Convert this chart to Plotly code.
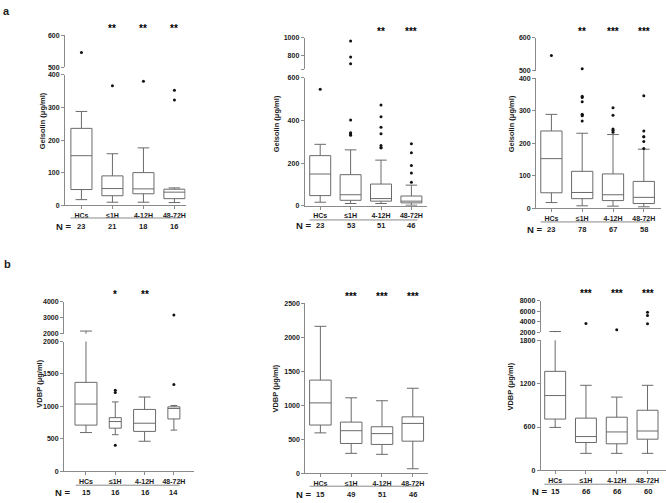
import plotly.graph_objects as go

W, H = 666, 503
categories = ["HCs", "≤1H", "4-12H", "48-72H"]

# ---------------- a, left: Gelsolin ----------------
gel1_n = [23, 21, 18, 16]
gel1_low = [17, 9, 9, 8]
gel1_q1 = [48, 29, 35, 20]
gel1_med = [152, 51, 50, 40]
gel1_q3 = [236, 90, 100, 49]
gel1_high = [288, 158, 176, 53]
gel1_out = [[546], [367], [381], [353, 323]]
gel1_stars = ["", "**", "**", "**"]

# ---------------- a, middle: Gelsolin ----------------
gel2_n = [23, 53, 51, 46]
gel2_low = [17, 11, 11, 3]
gel2_q1 = [48, 26, 22, 14]
gel2_med = [149, 52, 34, 22]
gel2_q3 = [235, 146, 102, 46]
gel2_high = [288, 262, 214, 97]
gel2_out = [[546], [402, 342, 337, 330, 711, 786, 961],
            [472, 417, 368, 337, 283, 272, 272], [291, 249, 189, 154, 111]]
gel2_stars = ["", "", "**", "***"]

# ---------------- a, right: Gelsolin ----------------
gel3_n = [23, 78, 67, 58]
gel3_low = [18, 8, 7, 5]
gel3_q1 = [48, 30, 24, 15]
gel3_med = [153, 49, 42, 34]
gel3_q3 = [238, 114, 106, 83]
gel3_high = [289, 231, 227, 182]
gel3_out = [[546], [506, 345, 341, 328, 289, 285, 287, 269],
            [309, 286, 244, 240, 234], [346, 238, 220, 220, 206, 184]]
gel3_stars = ["", "**", "***", "***"]

# ---------------- b, left: VDBP ----------------
vdbp1_n = [15, 16, 16, 14]
vdbp1_low = [595, 562, 461, 633]
vdbp1_q1 = [710, 663, 613, 805]
vdbp1_med = [1035, 765, 739, 967]
vdbp1_q3 = [1370, 825, 952, 992]
vdbp1_high = [2160, 1068, 1144, 1013]
vdbp1_out = [[], [1249, 1213, 401], [], [1335, 3160]]
vdbp1_stars = ["", "*", "**", ""]

# ---------------- b, middle: VDBP ----------------
vdbp2_n = [15, 49, 51, 46]
vdbp2_low = [595, 294, 280, 68]
vdbp2_q1 = [710, 439, 425, 473]
vdbp2_med = [1035, 627, 584, 734]
vdbp2_q3 = [1370, 753, 685, 830]
vdbp2_high = [2160, 1110, 1067, 1250]
vdbp2_out = [[], [], [], []]
vdbp2_stars = ["", "***", "***", "***"]

# ---------------- b, right: VDBP ----------------
vdbp3_n = [15, 66, 66, 60]
vdbp3_low = [595, 236, 236, 236]
vdbp3_q1 = [710, 386, 368, 432]
vdbp3_med = [1035, 468, 532, 545]
vdbp3_q3 = [1370, 723, 736, 832]
vdbp3_high = [2160, 1177, 1014, 1177]
vdbp3_out = [[], [3690], [2500], [5810, 5190, 3625]]
vdbp3_stars = ["", "***", "***", "***"]

GEL_TITLE = "Gelsolin (μg/ml)"
VDBP_TITLE = "VDBP (μg/ml)"

FONT = "Liberation Sans, Arial, sans-serif"
TXT = "#1a1a1a"
AXC = "#8a8a8a"
BOXC = "#6a6a6a"

# layout of each panel (pixel positions)
panels = [
    dict(data=(gel1_n, gel1_low, gel1_q1, gel1_med, gel1_q3, gel1_high, gel1_out, gel1_stars),
         title=GEL_TITLE, xpx=65, dx=31, xr=[-0.53, 3.36],
         low=[72, 204], lowr=[0, 400], lowt=[0, 100, 200, 300, 400], lowtt=None,
         up=[31.7, 64.3], upr=[500, 600], upt=[500, 600], uptt=None,
         widths=[0.68] * 4, title_xy=(42, 118), star_y=25, nline_y=217, nrow_y=226),
    dict(data=(gel2_n, gel2_low, gel2_q1, gel2_med, gel2_q3, gel2_high, gel2_out, gel2_stars),
         title=GEL_TITLE, xpx=304.7, dx=30.4, xr=[-0.51, 3.5],
         low=[74.7, 204.7], lowr=[0, 600], lowt=[0, 200, 400, 600], lowtt=None,
         up=[34, 66.3], upr=[650, 1000], upt=[650, 800, 1000], uptt=["", "800", "1000"],
         widths=[0.69] * 4, title_xy=(276, 122), star_y=28, nline_y=219, nrow_y=225),
    dict(data=(gel3_n, gel3_low, gel3_q1, gel3_med, gel3_q3, gel3_high, gel3_out, gel3_stars),
         title=GEL_TITLE, xpx=536, dx=30.8, xr=[-0.5, 3.55],
         low=[75.3, 207.3], lowr=[0, 400], lowt=[0, 100, 200, 300, 400], lowtt=None,
         up=[34.3, 67.7], upr=[500, 600], upt=[500, 600], uptt=None,
         widths=[0.69] * 4, title_xy=(511, 122), star_y=28, nline_y=221, nrow_y=229),
    dict(data=(vdbp1_n, vdbp1_low, vdbp1_q1, vdbp1_med, vdbp1_q3, vdbp1_high, vdbp1_out, vdbp1_stars),
         title=VDBP_TITLE, xpx=64, dx=29.3, xr=[-0.75, 3.7],
         low=[342.3, 473.7], lowr=[0, 2000], lowt=[0, 500, 1000, 1500, 2000], lowtt=None,
         up=[301.7, 334.3], upr=[2000, 4000], upt=[2000, 3000, 4000], uptt=None,
         widths=[0.75, 0.41, 0.75, 0.41], title_xy=(40, 385), star_y=295, nline_y=488, nrow_y=495),
    dict(data=(vdbp2_n, vdbp2_low, vdbp2_q1, vdbp2_med, vdbp2_q3, vdbp2_high, vdbp2_out, vdbp2_stars),
         title=VDBP_TITLE, xpx=305.3, dx=30.8, xr=[-0.49, 3.5],
         low=[303.4, 476], lowr=[0, 2500], lowt=[0, 500, 1000, 1500, 2000, 2500], lowtt=None,
         up=None, widths=[0.7] * 4, title_xy=(276, 390), star_y=297, nline_y=489, nrow_y=497),
    dict(data=(vdbp3_n, vdbp3_low, vdbp3_q1, vdbp3_med, vdbp3_q3, vdbp3_high, vdbp3_out, vdbp3_stars),
         title=VDBP_TITLE, xpx=540.7, dx=30.8, xr=[-0.47, 3.6],
         low=[341, 473], lowr=[0, 1800], lowt=[0, 600, 1200, 1800], lowtt=None,
         up=[301, 333], upr=[2000, 8000], upt=[2000, 4000, 6000, 8000], uptt=None,
         widths=[0.68] * 4, title_xy=(511, 388), star_y=294, nline_y=487, nrow_y=494),
]


def ax_key(kind, i):
    return f"{kind}axis" if i == 1 else f"{kind}axis{i}"


def ax_ref(kind, i):
    return kind if i == 1 else f"{kind}{i}"


def ypaper(py):
    return 1 - py / H


fig = go.Figure()
annotations = []
shapes = []
layout_axes = {}

tickfont = dict(family=FONT, size=7, color=TXT, weight="bold")

for p, spec in enumerate(panels, start=1):
    n, low, q1, med, q3, high, outs, stars = spec["data"]
    xi = p
    ylo = 2 * p - 1
    yup = 2 * p
    x0px = spec["xpx"]
    x1px = x0px + spec["dx"] * (spec["xr"][1] - spec["xr"][0])

    layout_axes[ax_key("x", xi)] = dict(
        type="category", categoryorder="array", categoryarray=categories,
        domain=[x0px / W, min(x1px / W, 1.0)], range=spec["xr"],
        anchor=ax_ref("y", ylo), showline=True, linecolor=AXC, linewidth=1,
        ticks="outside", ticklen=3, tickcolor=AXC, showgrid=False, zeroline=False,
        tickfont=dict(family=FONT, size=7, color=TXT, weight="bold"), fixedrange=True)

    layout_axes[ax_key("y", ylo)] = dict(
        domain=[ypaper(spec["low"][1]), ypaper(spec["low"][0])], range=spec["lowr"],
        anchor=ax_ref("x", xi), showline=True, linecolor=AXC, linewidth=1,
        ticks="outside", ticklen=3, tickcolor=AXC, showgrid=False, zeroline=False,
        tickvals=spec["lowt"], ticktext=spec["lowtt"] or [str(v) for v in spec["lowt"]],
        tickfont=tickfont, fixedrange=True)

    subplots = [ylo]
    if spec.get("up"):
        layout_axes[ax_key("y", yup)] = dict(
            domain=[ypaper(spec["up"][1]), ypaper(spec["up"][0])], range=spec["upr"],
            anchor=ax_ref("x", xi), showline=True, linecolor=AXC, linewidth=1,
            ticks="outside", ticklen=3, tickcolor=AXC, showgrid=False, zeroline=False,
            tickvals=spec["upt"], ticktext=spec["uptt"] or [str(v) for v in spec["upt"]],
            tickfont=tickfont, fixedrange=True)
        subplots.append(yup)

    for yi in subplots:
        for k, cat in enumerate(categories):
            fig.add_trace(go.Box(
                x=[cat], q1=[q1[k]], median=[med[k]], q3=[q3[k]],
                lowerfence=[low[k]], upperfence=[high[k]],
                width=spec["widths"][k], whiskerwidth=0.55, boxpoints=False,
                line=dict(color=BOXC, width=1), fillcolor="rgba(255,255,255,0)",
                xaxis=ax_ref("x", xi), yaxis=ax_ref("y", yi),
                showlegend=False, hoverinfo="skip"))
            if outs[k]:
                fig.add_trace(go.Scatter(
                    x=[cat] * len(outs[k]), y=outs[k], mode="markers",
                    marker=dict(size=3, color="#111111"),
                    xaxis=ax_ref("x", xi), yaxis=ax_ref("y", yi),
                    showlegend=False, hoverinfo="skip"))

    xref = ax_ref("x", xi)
    for k, cat in enumerate(categories):
        if stars[k]:
            annotations.append(dict(
                x=cat, xref=xref, y=ypaper(spec["star_y"]), yref="paper",
                text=stars[k], showarrow=False, xanchor="center", yanchor="middle",
                font=dict(family=FONT, size=10, color="#000000", weight="bold")))
        annotations.append(dict(
            x=cat, xref=xref, y=ypaper(spec["nrow_y"]), yref="paper",
            text=str(n[k]), showarrow=False, xanchor="center", yanchor="middle",
            font=dict(family=FONT, size=7.5, color=TXT, weight="bold")))
    annotations.append(dict(
        x=(x0px - 1) / W, xref="paper", y=ypaper(spec["nrow_y"]), yref="paper",
        text="N =", showarrow=False, xanchor="center", yanchor="middle",
        font=dict(family=FONT, size=9.5, color=TXT, weight="bold")))
    shapes.append(dict(
        type="line", xref=xref, x0=-0.35, x1=3.2, yref="paper",
        y0=ypaper(spec["nline_y"]), y1=ypaper(spec["nline_y"]),
        line=dict(color=AXC, width=1)))
    tx, ty = spec["title_xy"]
    annotations.append(dict(
        x=tx / W, xref="paper", y=ypaper(ty), yref="paper", text=spec["title"],
        textangle=-90, showarrow=False, xanchor="center", yanchor="middle",
        font=dict(family=FONT, size=7.5, color=TXT, weight="bold")))

annotations.append(dict(x=6 / W, xref="paper", y=ypaper(7), yref="paper", text="a",
                        showarrow=False, xanchor="center", yanchor="middle",
                        font=dict(family=FONT, size=11, color=TXT, weight="bold")))
annotations.append(dict(x=7 / W, xref="paper", y=ypaper(264), yref="paper", text="b",
                        showarrow=False, xanchor="center", yanchor="middle",
                        font=dict(family=FONT, size=11, color=TXT, weight="bold")))

fig.update_layout(
    width=W, height=H, margin=dict(l=0, r=0, t=0, b=0),
    paper_bgcolor="white", plot_bgcolor="rgba(0,0,0,0)",
    boxmode="overlay", showlegend=False,
    annotations=annotations, shapes=shapes, **layout_axes)

fig.write_html("out.html", config={"displayModeBar": False, "staticPlot": True},
               post_script="document.body.style.margin='0px';"
                           "document.body.style.overflow='hidden';")
